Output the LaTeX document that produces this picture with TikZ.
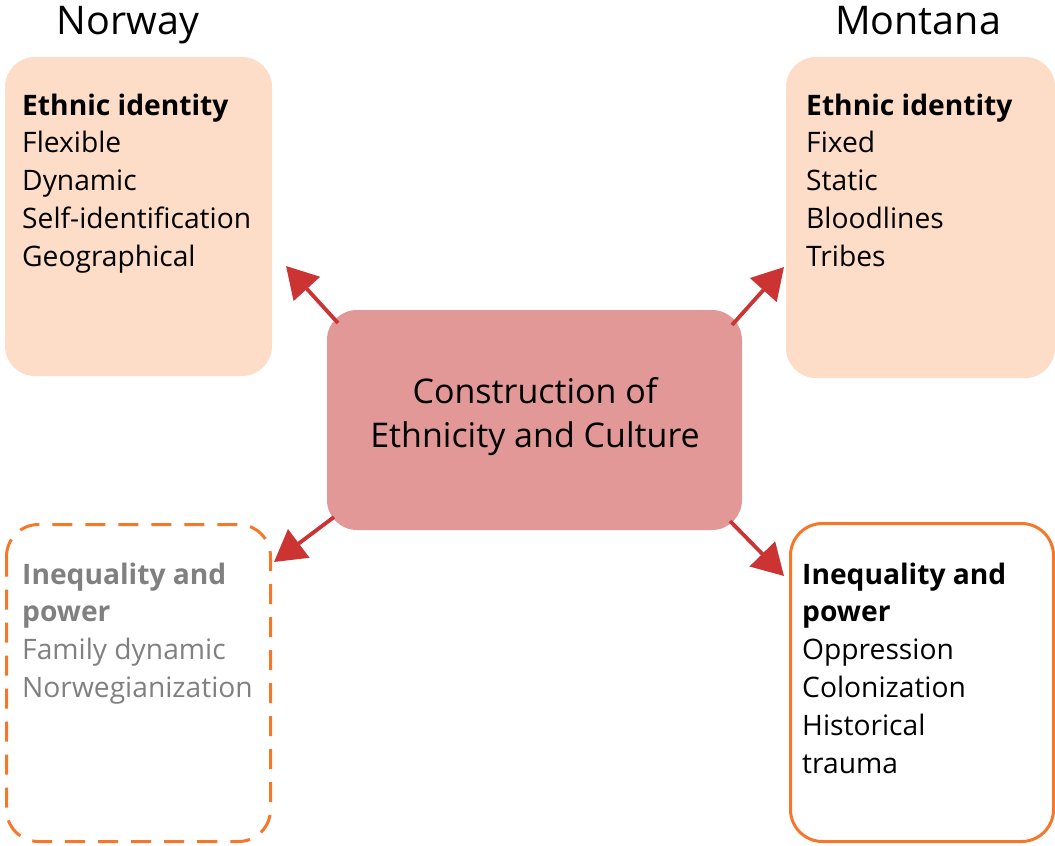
\documentclass[tikz,border=0pt]{standalone}
\usepackage{fontspec}
\setmainfont{Open Sans}
\usetikzlibrary{arrows.meta}
\definecolor{peach}{HTML}{FDDCC8}
\definecolor{rosy}{HTML}{E39898}
\definecolor{arrowred}{HTML}{CC3333}
\definecolor{orangeline}{HTML}{F7772A}
\definecolor{greytext}{HTML}{808080}
\tikzset{
  peachbox/.style={fill=peach, draw=none, rounded corners=30pt},
  centerbox/.style={fill=rosy, draw=none, rounded corners=30pt},
  dashbox/.style={draw=orangeline, line width=3pt, dash pattern=on 20pt off 13pt, rounded corners=32pt},
  solidbox/.style={draw=orangeline, line width=3pt, rounded corners=32pt},
  bodytext/.style={anchor=base west, align=left, inner sep=0pt, font=\fontsize{28.2}{37.8}\selectfont},
  titletext/.style={anchor=base, inner sep=0pt, font=\fontsize{39.5}{44}\selectfont},
  conn/.style={draw=arrowred, line width=3.8pt, -{Triangle[length=31pt,width=35pt]}},
}
\begin{document}
\begin{tikzpicture}[x=1pt,y=-1pt]
\useasboundingbox (0,0) rectangle (1055,846);
% boxes
\path[peachbox] (5,57) rectangle (272,376);
\path[peachbox] (786,57) rectangle (1055,378);
\path[dashbox] (6.5,524.5) rectangle (270.5,841.5);
\path[solidbox] (790.5,523.5) rectangle (1053.5,841.5);
\path[centerbox] (327,310) rectangle (742,530);
% titles
\node[titletext] (norway) at (128,34) {Norway};
\node[titletext] (montana) at (918,34) {Montana};
% center text (anchored at last baseline)
\node[anchor=base, align=center, inner sep=0pt, font=\fontsize{34}{44}\selectfont] (ctext) at (535,447) {Construction of\\Ethnicity and Culture};
% box texts (anchored at last baseline)
\node[bodytext] (tltext) at (22,266.2) {\textbf{Ethnic identity}\\Flexible\\Dynamic\\Self-identification\\Geographical};
\node[bodytext] (trtext) at (806,266.2) {\textbf{Ethnic identity}\\Fixed\\Static\\Bloodlines\\Tribes};
\node[bodytext, text=greytext] (bltext) at (22,697.4) {\textbf{Inequality and}\\\textbf{power}\\Family dynamic\\Norwegianization};
\node[bodytext] (brtext) at (802,773) {\textbf{Inequality and}\\\textbf{power}\\Oppression\\Colonization\\Historical\\trauma};
% connector endpoints
\coordinate (s1) at (338,323);
\coordinate (e1) at (286,266);
\coordinate (s2) at (732,325);
\coordinate (e2) at (784,267);
\coordinate (s3) at (334,517);
\coordinate (e3) at (274,562);
\coordinate (s4) at (730,521);
\coordinate (e4) at (784,576);
\draw[conn] (s1) -- (e1);
\draw[conn] (s2) -- (e2);
\draw[conn] (s3) -- (e3);
\draw[conn] (s4) -- (e4);
\end{tikzpicture}
\end{document}
